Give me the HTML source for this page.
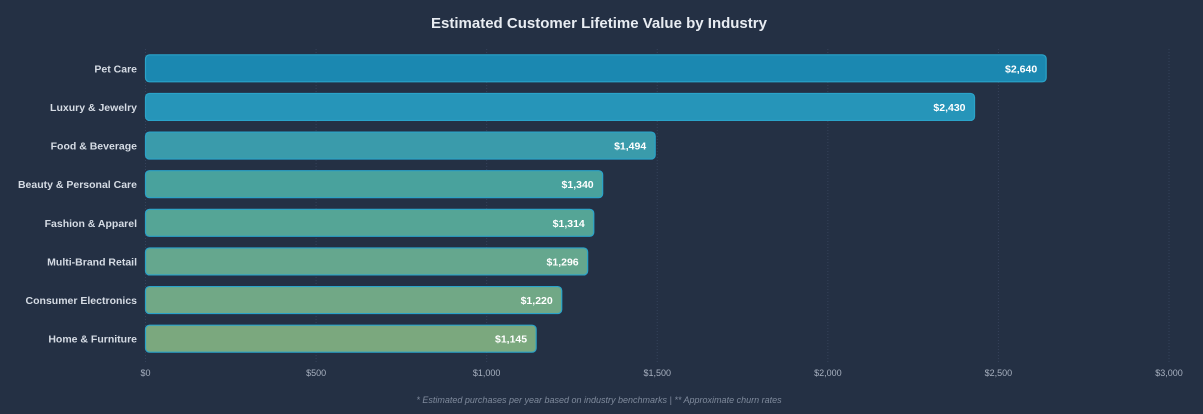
<!DOCTYPE html>
<html><head><meta charset="utf-8"><style>
html,body{margin:0;padding:0;background:#243044;}
svg{display:block;font-family:"Liberation Sans",Arial,sans-serif;}
</style></head><body>
<svg id="chart" width="1203" height="414" xmlns="http://www.w3.org/2000/svg">
<rect width="1203" height="414" fill="#243044"/>
<text x="599" y="28" text-anchor="middle" font-size="15" font-weight="bold" fill="#e8ecf2">Estimated Customer Lifetime Value by Industry</text>
<g id="grid"></g><g id="bars"></g><g id="ticks"></g>
<text x="599" y="403" text-anchor="middle" font-size="9" font-style="italic" fill="#7f8a9c">* Estimated purchases per year based on industry benchmarks | ** Approximate churn rates</text>
</svg>
<script>
const categories=["Pet Care","Luxury & Jewelry","Food & Beverage","Beauty & Personal Care","Fashion & Apparel","Multi-Brand Retail","Consumer Electronics","Home & Furniture"];
const values=[2640,2430,1494,1340,1314,1296,1220,1145];
const tickValues=[0,500,1000,1500,2000,2500,3000];
const tickLabels=["$0","$500","$1,000","$1,500","$2,000","$2,500","$3,000"];
const colors=["#1b88b1","#2695b9","#3a9bab","#49a29d","#55a596","#65a78e","#71a886","#7ba87e"];
const NS="http://www.w3.org/2000/svg";
const x0=145.5,x1=1169,xMax=3000,yTop=49,yBot=358;
const xs=v=>x0+(x1-x0)*v/xMax;
const band=(yBot-yTop)/categories.length;
const ys=i=>yTop+band*i+band/2;
function mk(tag,attrs,parent){const e=document.createElementNS(NS,tag);for(const k in attrs)e.setAttribute(k,attrs[k]);parent.appendChild(e);return e;}
const grid=document.getElementById('grid'),bars=document.getElementById('bars'),ticks=document.getElementById('ticks');
tickValues.forEach((t,i)=>{
 const l=mk('line',{x1:xs(t),x2:xs(t),y1:yTop,y2:yBot+5,stroke:'#35425a','stroke-dasharray':'1,2','stroke-width':1},grid);
 
 
 const tx=mk('text',{x:xs(t),y:376,'text-anchor':'middle','font-size':9,fill:'#a7b0bf'},ticks);
 tx.textContent=tickLabels[i];
 
 
});
categories.forEach((c,i)=>{
 const y=ys(i),h=27;
 const r=mk('rect',{x:x0,y:y-h/2,width:xs(values[i])-x0,height:h,rx:4,fill:colors[i],stroke:'#2aa3c9','stroke-width':1.2},bars);
 
 
 const lb=mk('text',{x:137,y:y+4,'text-anchor':'end','font-size':10.5,'font-weight':'bold',fill:'#d5dbe4'},bars);
 lb.textContent=c;
 
 
 const vl=mk('text',{x:xs(values[i])-9,y:y+4,'text-anchor':'end','font-size':10.5,'font-weight':'bold',fill:'#ffffff'},bars);
 vl.textContent='$'+values[i].toLocaleString('en-US');
 
 
});
</script>
</body></html>
